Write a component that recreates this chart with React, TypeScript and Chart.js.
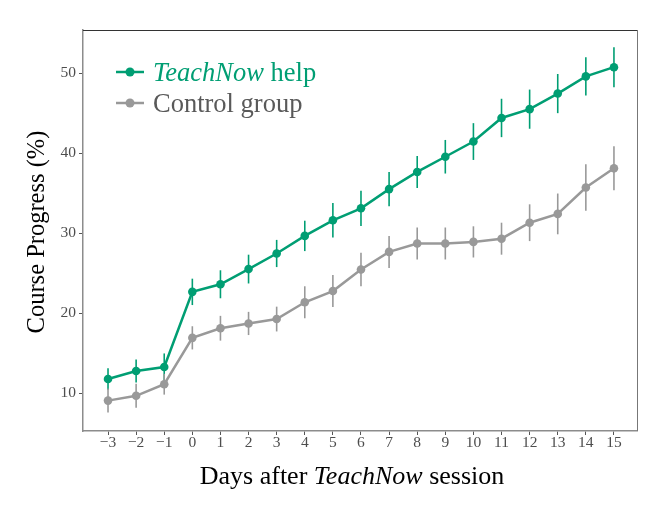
import { useEffect, useRef } from 'react';
import { Chart, Plugin } from 'chart.js/auto';

const days = [-3, -2, -1, 0, 1, 2, 3, 4, 5, 6, 7, 8, 9, 10, 11, 12, 13, 14, 15];
const teachNow = [11.75, 12.75, 13.25, 22.65, 23.6, 25.5, 27.45, 29.65, 31.6, 33.1, 35.5, 37.65, 39.55, 41.45, 44.4, 45.5, 47.45, 49.6, 50.75];
const teachNowErr = [1.35, 1.45, 1.7, 1.65, 1.75, 1.8, 1.7, 1.9, 2.15, 2.2, 2.15, 2.0, 2.1, 2.3, 2.4, 2.45, 2.45, 2.4, 2.5];
const control = [9.05, 9.65, 11.1, 16.9, 18.1, 18.7, 19.25, 21.35, 22.75, 25.45, 27.65, 28.7, 28.7, 28.9, 29.3, 31.3, 32.4, 35.7, 38.1];
const controlErr = [1.5, 1.5, 1.3, 1.45, 1.55, 1.45, 1.55, 2.0, 2.0, 2.1, 2.0, 2.0, 2.0, 1.95, 2.0, 2.3, 2.55, 2.9, 2.75];
const xTicks = [-3, -2, -1, 0, 1, 2, 3, 4, 5, 6, 7, 8, 9, 10, 11, 12, 13, 14, 15];
const yTicks = [10, 20, 30, 40, 50];

const GREEN = '#009E73';
const GREY = '#999999';
const SERIF = '"Liberation Serif", "DejaVu Serif", serif';

const errors = [teachNowErr, controlErr];

// vertical error bars, drawn under the lines and points
const errorBars: Plugin = {
  id: 'errorBars',
  beforeDatasetsDraw(chart) {
    const { ctx } = chart;
    const y = chart.scales.y;
    chart.data.datasets.forEach((ds, i) => {
      const meta = chart.getDatasetMeta(i);
      ctx.save();
      ctx.strokeStyle = ds.borderColor as string;
      ctx.lineWidth = 1.6;
      meta.data.forEach((pt, j) => {
        const v = (ds.data[j] as { y: number }).y;
        const e = errors[i][j];
        ctx.beginPath();
        ctx.moveTo(pt.x, y.getPixelForValue(v - e));
        ctx.lineTo(pt.x, y.getPixelForValue(v + e));
        ctx.stroke();
      });
      ctx.restore();
    });
  },
};

// panel border, axis titles and legend with mixed italic text
const decorations: Plugin = {
  id: 'decorations',
  afterDraw(chart) {
    const { ctx, chartArea: a } = chart;
    ctx.save();
    ctx.lineWidth = 1;
    ctx.strokeStyle = '#333333';
    ctx.beginPath();
    ctx.moveTo(a.left, a.top + 0.5);
    ctx.lineTo(a.right, a.top + 0.5);
    ctx.stroke();
    ctx.strokeStyle = '#777777';
    ctx.beginPath();
    ctx.moveTo(a.right + 0.5, a.top);
    ctx.lineTo(a.right + 0.5, a.bottom);
    ctx.stroke();

    // y title
    ctx.fillStyle = '#000000';
    ctx.font = `24.5px ${SERIF}`;
    ctx.textAlign = 'center';
    ctx.textBaseline = 'middle';
    ctx.save();
    ctx.translate(38, 232);
    ctx.rotate(-Math.PI / 2);
    ctx.fillText('Course Progress (%)', 0, 0);
    ctx.restore();

    const drawParts = (parts: [string, boolean][], x: number, yb: number, size: number, center: boolean) => {
      ctx.textAlign = 'left';
      ctx.textBaseline = 'alphabetic';
      const widths = parts.map(([t, it]) => {
        ctx.font = `${it ? 'italic ' : ''}${size}px ${SERIF}`;
        return ctx.measureText(t).width;
      });
      const total = widths.reduce((s, w) => s + w, 0);
      let cx = center ? x - total / 2 : x;
      parts.forEach(([t, it], k) => {
        ctx.font = `${it ? 'italic ' : ''}${size}px ${SERIF}`;
        ctx.fillText(t, cx, yb);
        cx += widths[k];
      });
    };

    // x title
    ctx.fillStyle = '#000000';
    drawParts([['Days after ', false], ['TeachNow', true], [' session', false]], 352, 484, 26, true);

    // legend
    const items: { color: string; text: string; parts: [string, boolean][]; y: number }[] = [
      { color: GREEN, text: GREEN, parts: [['TeachNow', true], [' help', false]], y: 72 },
      { color: GREY, text: '#595959', parts: [['Control group', false]], y: 103 },
    ];
    items.forEach((it) => {
      ctx.strokeStyle = it.color;
      ctx.lineWidth = 2.5;
      ctx.beginPath();
      ctx.moveTo(116, it.y);
      ctx.lineTo(144, it.y);
      ctx.stroke();
      ctx.fillStyle = it.color;
      ctx.beginPath();
      ctx.arc(130, it.y, 4.5, 0, Math.PI * 2);
      ctx.fill();
      ctx.fillStyle = it.text;
      drawParts(it.parts, 153, it.y + 9, 26.5, false);
    });
    ctx.restore();
  },
};

export default function App() {
  const canvasRef = useRef<HTMLCanvasElement>(null);

  useEffect(() => {
    if (!canvasRef.current) return;
    const fmt = (v: number | string) => {
      const n = Number(v);
      return n < 0 ? '\u2212' + Math.abs(n) : String(n);
    };
    const axisCommon = {
      border: { display: true, color: '#8c8c8c', width: 1.5 },
      grid: { drawOnChartArea: false, drawTicks: true, tickLength: 4, color: '#555555', lineWidth: 1 },
    };
    const chart = new Chart(canvasRef.current, {
      type: 'line',
      data: {
        datasets: [
          {
            label: 'TeachNow help',
            data: days.map((d, i) => ({ x: d, y: teachNow[i] })),
            borderColor: GREEN,
            backgroundColor: GREEN,
            borderWidth: 2.5,
            pointRadius: 4.3,
            pointBorderWidth: 0,
            tension: 0,
          },
          {
            label: 'Control group',
            data: days.map((d, i) => ({ x: d, y: control[i] })),
            borderColor: GREY,
            backgroundColor: GREY,
            borderWidth: 2.5,
            pointRadius: 4.3,
            pointBorderWidth: 0,
            tension: 0,
          },
        ],
      },
      options: {
        responsive: false,
        animation: false,
        devicePixelRatio: 1,
        layout: { padding: { top: 30, right: 27, left: 0, bottom: 0 } },
        plugins: { legend: { display: false }, tooltip: { enabled: false } },
        scales: {
          x: {
            type: 'linear',
            min: -3.89,
            max: 15.82,
            ...axisCommon,
            afterBuildTicks: (s) => {
              s.ticks = xTicks.map((v) => ({ value: v }));
            },
            afterFit: (s) => {
              s.height = 75;
            },
            ticks: {
              autoSkip: false,
              maxRotation: 0,
              padding: -1,
              color: '#4d4d4d',
              font: { family: SERIF, size: 15.5 },
              callback: fmt,
            },
          },
          y: {
            type: 'linear',
            min: 5.25,
            max: 55.4,
            ...axisCommon,
            afterBuildTicks: (s) => {
              s.ticks = yTicks.map((v) => ({ value: v }));
            },
            afterFit: (s) => {
              s.width = 83;
            },
            ticks: {
              padding: 3,
              color: '#4d4d4d',
              font: { family: SERIF, size: 15.5 },
              callback: fmt,
            },
          },
        },
      },
      plugins: [errorBars, decorations],
    });
    return () => chart.destroy();
  }, []);

  return (
    <div style={{ position: 'absolute', left: 0, top: 0, width: 664, height: 506, background: '#fff' }}>
      <canvas ref={canvasRef} width={664} height={506} />
    </div>
  );
}
